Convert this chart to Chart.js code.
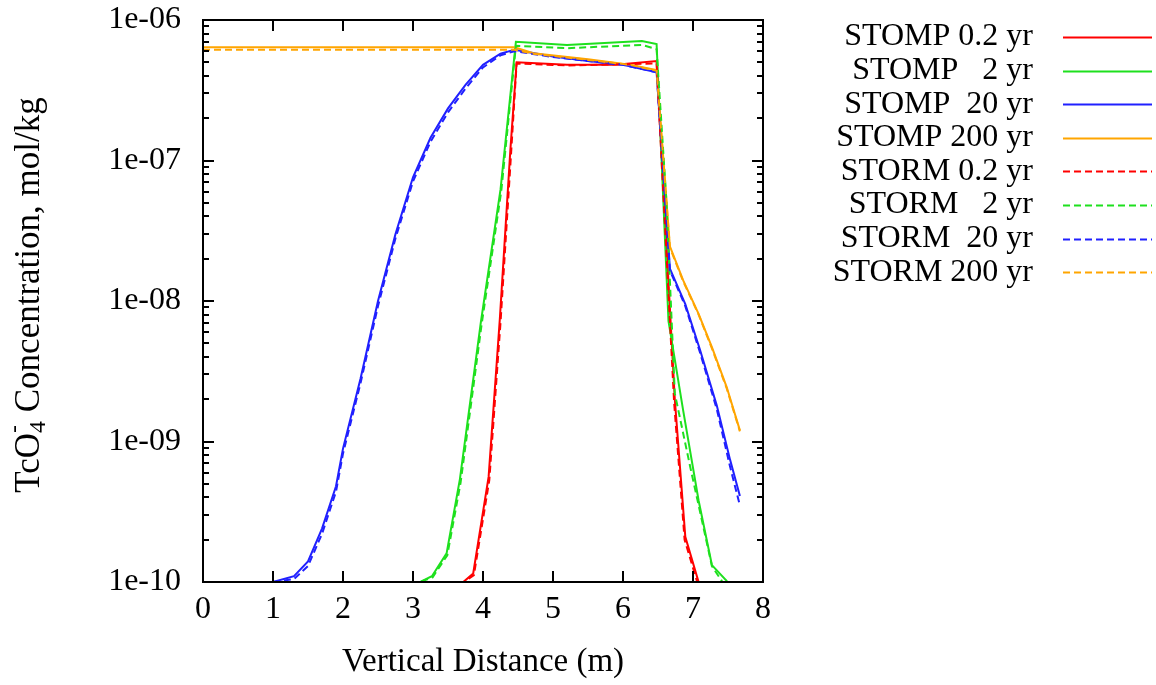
<!DOCTYPE html>
<html>
<head>
<meta charset="utf-8">
<script src="https://cdn.jsdelivr.net/npm/chart.js@4.4.1/dist/chart.umd.min.js"></script>
<style>
  html, body { margin: 0; padding: 0; background: #fff; }
  #wrap { width: 1156px; height: 685px; }
</style>
</head>
<body>
<div id="wrap"><canvas id="chart" width="1156" height="685"></canvas></div>
<script>
// axis ticks
const xTickValues = [0, 1, 2, 3, 4, 5, 6, 7, 8];
const xTickLabels = ['0', '1', '2', '3', '4', '5', '6', '7', '8'];
const yTickValues = [1e-10, 1e-9, 1e-8, 1e-7, 1e-6];
const yTickLabels = ['1e-10', '1e-09', '1e-08', '1e-07', '1e-06'];

const seriesLabels = ['STOMP 0.2 yr', 'STOMP   2 yr', 'STOMP  20 yr', 'STOMP 200 yr',
                      'STORM 0.2 yr', 'STORM   2 yr', 'STORM  20 yr', 'STORM 200 yr'];

// STOMP 0.2 yr
const stomp02Dist = [3.6, 3.72, 3.86, 4.08, 4.24, 4.39, 4.48, 5.2, 5.9, 6.48, 6.74, 6.89, 7.08, 7.2];
const stomp02Conc = [8e-11, 1.0e-10, 1.15e-10, 5.6e-10, 7.4e-9, 1.17e-7, 5.0e-7, 4.8e-7, 4.8e-7, 5.1e-7, 2.0e-9, 2.1e-10, 1.0e-10, 7e-11];
// STOMP 2 yr
const stomp2Dist = [3.0, 3.1, 3.27, 3.48, 3.67, 3.97, 4.25, 4.47, 5.2, 6.27, 6.48, 6.65, 6.86, 7.08, 7.27, 7.48, 7.7];
const stomp2Conc = [9e-11, 1.0e-10, 1.1e-10, 1.6e-10, 5.4e-10, 7.1e-9, 6.2e-8, 7.0e-7, 6.65e-7, 7.1e-7, 6.75e-7, 7.2e-9, 1.66e-9, 3.8e-10, 1.32e-10, 1.02e-10, 6e-11];
// STOMP 20 yr
const stomp20Dist = [1.0, 1.3, 1.5, 1.7, 1.9, 2.0, 2.25, 2.5, 2.75, 3.0, 3.25, 3.5, 3.75, 4.0, 4.25, 4.45, 5.0, 5.5, 6.0, 6.48, 6.67, 6.89, 7.1, 7.34, 7.53, 7.67];
const stomp20Conc = [1.0e-10, 1.1e-10, 1.4e-10, 2.4e-10, 4.8e-10, 8.9e-10, 2.8e-9, 1.0e-8, 3.0e-8, 7.6e-8, 1.45e-7, 2.35e-7, 3.45e-7, 4.8e-7, 5.75e-7, 6.15e-7, 5.5e-7, 5.1e-7, 4.8e-7, 4.25e-7, 1.7e-8, 9.5e-9, 4.5e-9, 1.8e-9, 7.4e-10, 4.1e-10];
// STOMP 200 yr
const stomp200Dist = [0, 4.45, 4.72, 5.5, 6.1, 6.48, 6.67, 6.86, 7.08, 7.27, 7.48, 7.67];
const stomp200Conc = [6.4e-7, 6.4e-7, 5.8e-7, 5.25e-7, 4.8e-7, 4.4e-7, 2.45e-8, 1.4e-8, 8.1e-9, 4.7e-9, 2.45e-9, 1.2e-9];

// STORM 0.2 yr
const storm02Dist = [3.6, 3.73, 3.87, 4.09, 4.25, 4.4, 4.48, 5.2, 6.48, 6.73, 6.88, 7.06, 7.2];
const storm02Conc = [8e-11, 1.0e-10, 1.12e-10, 5.3e-10, 7.0e-9, 1.1e-7, 4.9e-7, 4.75e-7, 4.9e-7, 1.9e-9, 2.0e-10, 1.0e-10, 7e-11];
// STORM 2 yr
const storm2Dist = [3.0, 3.1, 3.28, 3.49, 3.68, 3.98, 4.26, 4.47, 5.2, 6.27, 6.48, 6.62, 6.74, 6.96, 7.27, 7.42, 7.6];
const storm2Conc = [9e-11, 1.0e-10, 1.08e-10, 1.55e-10, 5.1e-10, 6.8e-9, 6.0e-8, 6.55e-7, 6.3e-7, 6.65e-7, 6.2e-7, 5.2e-8, 2.2e-9, 6.6e-10, 1.3e-10, 1.0e-10, 6.3e-11];
// STORM 20 yr
const storm20Dist = [1.0, 1.3, 1.5, 1.7, 1.9, 2.0, 2.25, 2.5, 2.75, 3.0, 3.25, 3.5, 3.75, 4.0, 4.25, 4.45, 5.0, 5.5, 6.0, 6.48, 6.67, 6.89, 7.1, 7.34, 7.53, 7.67];
const storm20Conc = [1.0e-10, 1.05e-10, 1.3e-10, 2.2e-10, 4.4e-10, 8.2e-10, 2.6e-9, 9.2e-9, 2.8e-8, 7.1e-8, 1.36e-7, 2.2e-7, 3.25e-7, 4.6e-7, 5.6e-7, 6.0e-7, 5.45e-7, 5.1e-7, 4.8e-7, 4.25e-7, 1.65e-8, 9.2e-9, 4.3e-9, 1.7e-9, 6.6e-10, 3.5e-10];
// STORM 200 yr
const storm200Dist = [0, 4.45, 4.72, 5.5, 6.1, 6.48, 6.67, 6.86, 7.08, 7.27, 7.48, 7.67];
const storm200Conc = [6.15e-7, 6.15e-7, 5.75e-7, 5.2e-7, 4.8e-7, 4.35e-7, 2.4e-8, 1.38e-8, 8.0e-9, 4.6e-9, 2.4e-9, 1.18e-9];

const RED = '#ff0000', GREEN = '#1ee01e', BLUE = '#2020ff', ORANGE = '#ffa500';
const FONT = '"Liberation Serif", "Times New Roman", serif';

function pts(xs, ys) {
    return xs.map((x, i) => ({ x: x, y: ys[i] }));
}

function series(i, xs, ys, color, dashed) {
    return {
        label: seriesLabels[i],
        data: pts(xs, ys),
        borderColor: color,
        backgroundColor: color,
        borderWidth: 2,
        borderDash: dashed ? [7, 4] : [],
        pointRadius: 0,
        tension: 0,
        fill: false,
        order: 7 - i   // later series on top, like gnuplot
    };
}

const datasets = [
    series(0, stomp02Dist, stomp02Conc, RED, false),
    series(1, stomp2Dist, stomp2Conc, GREEN, false),
    series(2, stomp20Dist, stomp20Conc, BLUE, false),
    series(3, stomp200Dist, stomp200Conc, ORANGE, false),
    series(4, storm02Dist, storm02Conc, RED, true),
    series(5, storm2Dist, storm2Conc, GREEN, true),
    series(6, storm20Dist, storm20Conc, BLUE, true),
    series(7, storm200Dist, storm200Conc, ORANGE, true)
];

// frame with inward ticks, y title with sub/superscript, key on the right
const decorations = {
    id: 'decorations',
    afterDatasetsDraw(chart) {
        const { ctx, chartArea: a, scales: { x, y } } = chart;
        ctx.save();
        ctx.strokeStyle = '#000';
        ctx.lineWidth = 2;
        ctx.setLineDash([]);
        ctx.beginPath();
        x.ticks.forEach(t => {
            const px = Math.round(x.getPixelForValue(t.value));
            ctx.moveTo(px, a.bottom); ctx.lineTo(px, a.bottom - 11);
            ctx.moveTo(px, a.top); ctx.lineTo(px, a.top + 11);
        });
        yTickValues.forEach((v, i) => {
            const py = Math.round(y.getPixelForValue(v));
            ctx.moveTo(a.left, py); ctx.lineTo(a.left + 11, py);
            ctx.moveTo(a.right, py); ctx.lineTo(a.right - 11, py);
            if (i < yTickValues.length - 1) {
                for (let m = 2; m <= 9; m++) {
                    const pm = Math.round(y.getPixelForValue(v * m));
                    ctx.moveTo(a.left, pm); ctx.lineTo(a.left + 6, pm);
                    ctx.moveTo(a.right, pm); ctx.lineTo(a.right - 6, pm);
                }
            }
        });
        ctx.stroke();
        ctx.strokeRect(a.left, a.top, a.right - a.left, a.bottom - a.top);
        ctx.restore();
    },
    afterDraw(chart) {
        const ctx = chart.ctx;
        ctx.save();
        ctx.fillStyle = '#000';

        // y axis title
        const big = '35px ' + FONT, small = '24px ' + FONT;
        const parts = [
            { t: 'TcO', f: big, dy: 0 },
            { t: '4', f: small, dy: 9 },
            { t: '-', f: small, dy: -15, back: true },
            { t: ' Concentration, mol/kg', f: big, dy: 0 }
        ];
        let total = 0;
        parts.forEach(p => {
            ctx.font = p.f;
            p.w = ctx.measureText(p.t).width;
            if (!p.back) total += p.w;
        });
        ctx.translate(30, 295);
        ctx.rotate(-Math.PI / 2);
        ctx.textBaseline = 'middle';
        ctx.textAlign = 'left';
        let cx = -total / 2, prevX = cx;
        parts.forEach(p => {
            ctx.font = p.f;
            if (p.back) {
                ctx.fillText(p.t, prevX, p.dy);
            } else {
                ctx.fillText(p.t, cx, p.dy);
                prevX = cx;
                cx += p.w;
            }
        });
        ctx.setTransform(1, 0, 0, 1, 0, 0);

        // key
        ctx.font = '32px ' + FONT;
        ctx.textAlign = 'right';
        ctx.textBaseline = 'middle';
        chart.data.datasets.forEach((ds, i) => {
            const ly = 37 + i * 33.6;
            ctx.fillStyle = '#000';
            ctx.fillText(ds.label, 1033, ly);
            ctx.strokeStyle = ds.borderColor;
            ctx.lineWidth = 2;
            ctx.setLineDash(ds.borderDash);
            ctx.beginPath();
            ctx.moveTo(1063, Math.round(ly) + 0.5);
            ctx.lineTo(1152, Math.round(ly) + 0.5);
            ctx.stroke();
        });
        ctx.restore();
    }
};

Chart.defaults.font.family = FONT;
Chart.defaults.font.size = 32;
Chart.defaults.color = '#000';

new Chart(document.getElementById('chart'), {
    type: 'line',
    data: { datasets: datasets },
    options: {
        responsive: false,
        devicePixelRatio: 1,
        animation: false,
        layout: { padding: { left: 0, top: 0, right: 393, bottom: 0 } },
        plugins: { legend: { display: false }, tooltip: { enabled: false } },
        scales: {
            x: {
                type: 'linear',
                min: 0,
                max: 8,
                grid: { display: false, drawTicks: false },
                border: { display: false },
                afterBuildTicks: scale => { scale.ticks = xTickValues.map(v => ({ value: v })); },
                afterFit: scale => {
                    scale.height = 103;
                    scale.paddingLeft = 0;
                    scale.paddingRight = 0;
                },
                ticks: {
                    padding: 8,
                    maxRotation: 0,
                    callback: (v, i) => xTickLabels[i]
                },
                title: {
                    display: true,
                    text: 'Vertical Distance (m)',
                    font: { size: 33 },
                    padding: { top: 0, bottom: 3 }
                }
            },
            y: {
                type: 'logarithmic',
                min: 1e-10,
                max: 1e-6,
                grid: { display: false, drawTicks: false },
                border: { display: false },
                afterBuildTicks: scale => { scale.ticks = yTickValues.map(v => ({ value: v })); },
                afterFit: scale => {
                    scale.width = 203;
                    scale.paddingTop = 20;
                    scale.paddingBottom = 0;
                },
                ticks: {
                    padding: 22,
                    callback: (v, i) => yTickLabels[i]
                },
                title: { display: false }
            }
        }
    },
    plugins: [decorations]
});
</script>
</body>
</html>
